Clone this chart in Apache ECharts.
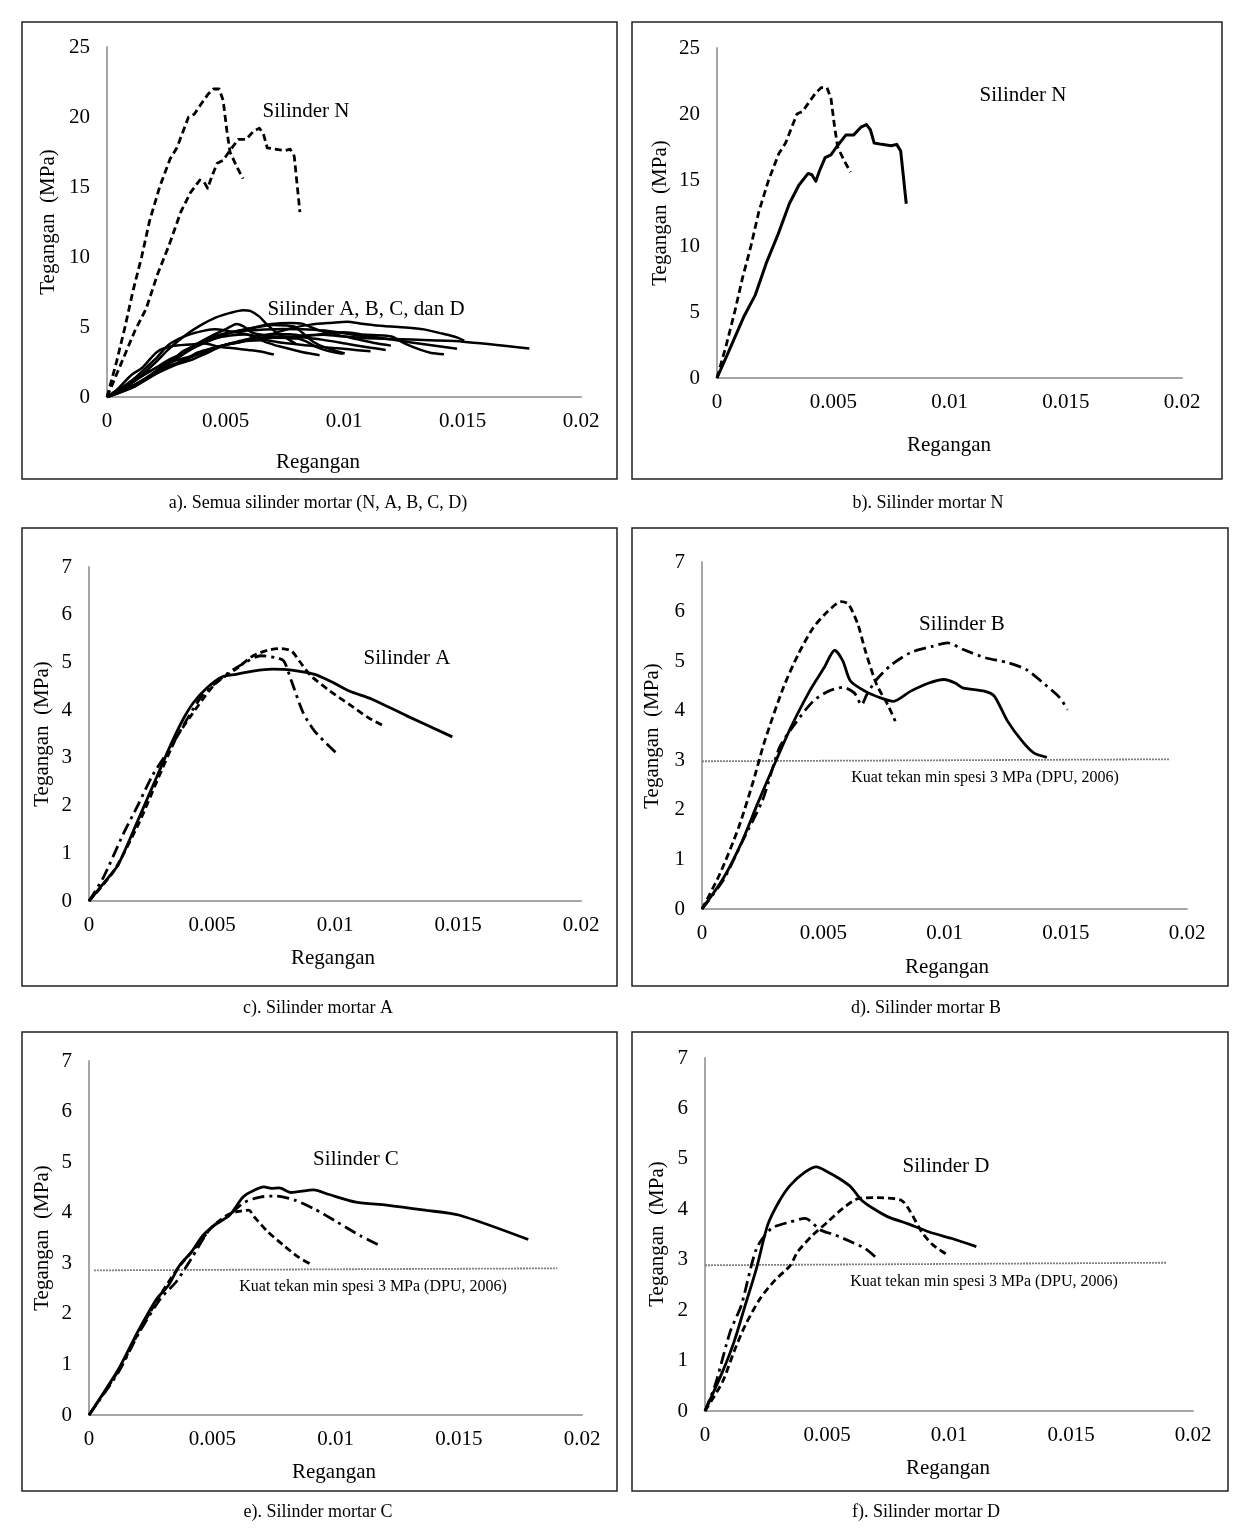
<!DOCTYPE html>
<html>
<head>
<meta charset="utf-8">
<script src="https://cdn.jsdelivr.net/npm/echarts@6/dist/echarts.min.js"></script>
<style>
html,body{margin:0;padding:0;background:#fff;}
#c{width:1242px;height:1536px;}
</style>
</head>
<body>
<div id="c"></div>
<script>
// ---------- Tick settings ----------
const xTicks = {min: 0, max: 0.02, interval: 0.005};
const yTicksN = {min: 0, max: 25, interval: 5};
const yTicksABCD = {min: 0, max: 7, interval: 1};

// ---------- Silinder N ----------
const N_dashed = [[0,0],[0.0004,2.5],[0.00076,5],[0.0011,7.6],[0.00146,10],[0.0018,12.6],[0.00222,15],[0.00266,17],[0.00295,17.8],[0.00344,20],[0.00368,20.2],[0.004,21],[0.00425,21.6],[0.00449,22],[0.00473,22],[0.0049,21.2],[0.00506,19],[0.00519,17.5],[0.00546,16.5],[0.00574,15.6]];
const N_solid = [[0,0],[0.0005,2],[0.00117,4.7],[0.00165,6.3],[0.00214,8.8],[0.00263,10.9],[0.00311,13.2],[0.00352,14.6],[0.00392,15.5],[0.00408,15.4],[0.00425,14.9],[0.00441,15.7],[0.00465,16.7],[0.0049,16.9],[0.00514,17.5],[0.00554,18.4],[0.00587,18.4],[0.00619,19],[0.00643,19.2],[0.0066,18.8],[0.00676,17.8],[0.00708,17.7],[0.00749,17.6],[0.00773,17.7],[0.0079,17.2],[0.00814,13.2]];

// ---------- Silinder A ----------
const A_solid = [[0,0],[0.00089,0.56],[0.0012,0.77],[0.00198,1.68],[0.00277,2.62],[0.00339,3.35],[0.00386,3.84],[0.00425,4.16],[0.0048,4.47],[0.00542,4.7],[0.00597,4.75],[0.00667,4.82],[0.00745,4.86],[0.00823,4.84],[0.00917,4.75],[0.0098,4.61],[0.01058,4.4],[0.0115,4.23],[0.01292,3.88],[0.01477,3.44]];
const A_dashed = [[0,0],[0.001,0.62],[0.002,1.6],[0.00277,2.52],[0.00355,3.42],[0.00417,3.9],[0.00511,4.54],[0.00605,4.89],[0.00667,5.14],[0.0073,5.26],[0.00777,5.29],[0.00823,5.24],[0.00855,5.03],[0.00902,4.72],[0.0098,4.4],[0.01058,4.12],[0.01136,3.84],[0.01198,3.67]];
const A_dashdot = [[0,0],[0.00058,0.49],[0.00139,1.4],[0.00198,2.0],[0.0026,2.65],[0.0033,3.2],[0.00386,3.7],[0.00464,4.33],[0.00558,4.75],[0.00636,5.0],[0.00698,5.14],[0.0076,5.1],[0.00792,5.03],[0.00823,4.61],[0.0087,3.95],[0.00917,3.56],[0.01003,3.11]];

// ---------- Silinder B ----------
const B_dashed = [[0,0],[0.00072,0.69],[0.0015,1.63],[0.00211,2.57],[0.00258,3.38],[0.00335,4.46],[0.00396,5.13],[0.00458,5.67],[0.0052,6.01],[0.00574,6.2],[0.00604,6.15],[0.00643,5.74],[0.00674,5.2],[0.0072,4.53],[0.00766,4.12],[0.00797,3.79]];
const B_solid = [[0,0],[0.00088,0.62],[0.00165,1.36],[0.00227,2.1],[0.00304,2.98],[0.00365,3.65],[0.00443,4.39],[0.00504,4.87],[0.00547,5.22],[0.00581,5.0],[0.00612,4.6],[0.00674,4.39],[0.00736,4.26],[0.0079,4.19],[0.00859,4.39],[0.00936,4.56],[0.00998,4.63],[0.01044,4.56],[0.01075,4.46],[0.01167,4.39],[0.01206,4.29],[0.0126,3.79],[0.01321,3.38],[0.01368,3.15],[0.01422,3.06]];
const B_dashdot = [[0,0],[0.0009,0.6],[0.0017,1.4],[0.0025,2.2],[0.00319,3.25],[0.00381,3.72],[0.00458,4.19],[0.0052,4.39],[0.00581,4.47],[0.00628,4.36],[0.00658,4.12],[0.0068,4.33],[0.0072,4.63],[0.00782,4.93],[0.00859,5.17],[0.00951,5.3],[0.01013,5.37],[0.01075,5.24],[0.01167,5.07],[0.0126,4.97],[0.01337,4.83],[0.01414,4.53],[0.01476,4.26],[0.01507,4.02]];

// ---------- Silinder C ----------
const C_solid = [[0,0],[0.0012,0.91],[0.00197,1.64],[0.00275,2.3],[0.00322,2.56],[0.00368,2.96],[0.00415,3.22],[0.00462,3.55],[0.00508,3.75],[0.0057,3.95],[0.00625,4.31],[0.00664,4.43],[0.0071,4.51],[0.0074,4.48],[0.00772,4.49],[0.00819,4.4],[0.00912,4.45],[0.00974,4.36],[0.01083,4.21],[0.01207,4.15],[0.01363,4.05],[0.01503,3.95],[0.01782,3.47]];
const C_dashdot = [[0,0],[0.0012,0.85],[0.002,1.6],[0.0029,2.3],[0.00353,2.63],[0.00415,3.09],[0.00493,3.69],[0.0057,3.96],[0.00632,4.21],[0.00695,4.31],[0.00757,4.33],[0.00834,4.25],[0.00912,4.08],[0.01005,3.82],[0.01099,3.55],[0.01176,3.36]];
const C_dashed = [[0,0],[0.0012,0.88],[0.002,1.62],[0.0028,2.3],[0.0036,2.9],[0.0043,3.3],[0.005,3.72],[0.0056,3.95],[0.00601,4.02],[0.00648,4.05],[0.0067,3.92],[0.00726,3.62],[0.00788,3.36],[0.0085,3.12],[0.00897,2.99]];

// ---------- Silinder D ----------
const D_solid = [[0,0],[0.00072,0.78],[0.00119,1.37],[0.00165,2.1],[0.00211,2.83],[0.00257,3.69],[0.00303,4.15],[0.0035,4.48],[0.00411,4.74],[0.00457,4.84],[0.00503,4.74],[0.0055,4.61],[0.00596,4.45],[0.00642,4.18],[0.00688,4.02],[0.0075,3.85],[0.00827,3.72],[0.00919,3.55],[0.01012,3.42],[0.01112,3.26]];
const D_dashed = [[0,0],[0.00072,0.58],[0.00119,1.18],[0.00165,1.7],[0.00226,2.23],[0.00288,2.6],[0.0035,2.89],[0.0038,3.16],[0.00442,3.49],[0.00503,3.75],[0.00565,4.02],[0.00627,4.21],[0.00704,4.23],[0.00804,4.18],[0.00842,3.95],[0.00888,3.55],[0.00935,3.29],[0.00996,3.09]];
const D_dashdot = [[0,0],[0.00042,0.52],[0.00103,1.57],[0.00149,2.1],[0.00211,3.22],[0.00272,3.62],[0.0035,3.75],[0.00411,3.82],[0.00473,3.59],[0.00534,3.49],[0.00596,3.36],[0.00657,3.22],[0.00704,3.03]];

// ---------- Minimum mortar strength reference lines (3 MPa, DPU 2006) ----------
const ref_B = [[0,2.98],[0.0193,3.02]];
const ref_C = [[0.0002,2.86],[0.019,2.9]];
const ref_D = [[0,2.89],[0.0189,2.94]];

// ---------- Texts ----------
const captions = ['a). Semua silinder mortar (N, A, B, C, D)','b). Silinder mortar N','c). Silinder mortar A','d). Silinder mortar B','e). Silinder mortar C','f). Silinder mortar D'];
const xName = 'Regangan';
const yName = 'Tegangan  (MPa)';
const refText = 'Kuat tekan min spesi 3 MPa (DPU, 2006)';

// ---------- Layout ----------
const FONT = '"Liberation Serif","Times New Roman",serif';
const panels = [
  {box:[22,22,617,479],   grid:{left:107,top:47,width:474,height:350},  y:yTicksN,    cap:[318,503], xn:[318,462],  yn:[48,222],  ann:[{t:'Silinder N',x:306,y:111},{t:'Silinder A, B, C, dan D',x:366,y:309}]},
  {box:[632,22,1222,479], grid:{left:717,top:48,width:465,height:330},  y:yTicksN,    cap:[928,503], xn:[949,445],  yn:[660,213], ann:[{t:'Silinder N',x:1023,y:95}]},
  {box:[22,528,617,986],  grid:{left:89,top:567,width:492,height:334},  y:yTicksABCD, cap:[318,1008],xn:[333,958],  yn:[42,734],  ann:[{t:'Silinder A',x:407,y:658}]},
  {box:[632,528,1228,986],grid:{left:702,top:562,width:485,height:347}, y:yTicksABCD, cap:[926,1008],xn:[947,967],  yn:[652,736], ann:[{t:'Silinder B',x:962,y:624},{t:refText,x:985,y:778,ref:true}]},
  {box:[22,1032,617,1491],grid:{left:89,top:1061,width:493,height:354}, y:yTicksABCD, cap:[318,1512],xn:[334,1472], yn:[42,1238], ann:[{t:'Silinder C',x:356,y:1159},{t:refText,x:373,y:1287,ref:true}]},
  {box:[632,1032,1228,1491],grid:{left:705,top:1058,width:488,height:353},y:yTicksABCD,cap:[926,1512],xn:[948,1468], yn:[657,1234], ann:[{t:'Silinder D',x:946,y:1166},{t:refText,x:984,y:1282,ref:true}]}
];

const grids = [], xAxes = [], yAxes = [], series = [], graphics = [];
const axisLine = {show:true, lineStyle:{color:'#a6a6a6', width:2}};
panels.forEach((p,i)=>{
  grids.push(Object.assign({containLabel:false}, p.grid));
  xAxes.push({type:'value', gridIndex:i, min:xTicks.min, max:xTicks.max, interval:xTicks.interval,
    axisLine:axisLine, axisTick:{show:false}, splitLine:{show:false},
    axisLabel:{fontFamily:FONT, fontSize:21, color:'#000', margin:14}});
  yAxes.push({type:'value', gridIndex:i, min:p.y.min, max:p.y.max, interval:p.y.interval,
    axisLine:axisLine, axisTick:{show:false}, splitLine:{show:false},
    axisLabel:{fontFamily:FONT, fontSize:21, color:'#000', margin:17}});
  const [x1,y1,x2,y2] = p.box;
  graphics.push({type:'rect', shape:{x:x1,y:y1,width:x2-x1,height:y2-y1}, style:{fill:'none', stroke:'#222', lineWidth:1.5}, silent:true});
  graphics.push({type:'text', x:p.cap[0], y:p.cap[1], style:{text:captions[i], font:'18px '+FONT, fill:'#000', textAlign:'center', textVerticalAlign:'middle'}});
  graphics.push({type:'text', x:p.xn[0], y:p.xn[1], style:{text:xName, font:'21px '+FONT, fill:'#000', textAlign:'center', textVerticalAlign:'middle'}});
  graphics.push({type:'text', x:p.yn[0], y:p.yn[1], rotation:Math.PI/2, style:{text:yName, font:'21px '+FONT, fill:'#000', textAlign:'center', textVerticalAlign:'middle'}});
  p.ann.forEach(a=>{
    graphics.push({type:'text', x:a.x, y:a.y, style:{text:a.t, font:(a.ref?'16px ':'21px ')+FONT, fill:'#000', textAlign:'center', textVerticalAlign:'middle'}});
  });
});

const DASH = [7,4];
const DASHDOT = [12,5,3,5];
function line(data, idx, type, width, smooth){
  series.push({type:'line', xAxisIndex:idx, yAxisIndex:idx, data:data, showSymbol:false, symbol:'none',
    smooth:smooth||false, silent:true, z:3,
    lineStyle:{color:'#000', width:width||2.8, type:type, cap:'butt', join:'round'}});
}
function ref(data, idx){
  series.push({type:'line', xAxisIndex:idx, yAxisIndex:idx, data:data, showSymbol:false, symbol:'none', silent:true, z:2,
    lineStyle:{color:'#808080', width:1.8, type:[2,1]}});
}
// Panel a: all cylinders
line(N_dashed,0,DASH,2.8); line(N_solid,0,DASH,2.8);
[A_solid,A_dashed,A_dashdot,B_dashed,B_solid,B_dashdot,C_solid,C_dashdot,C_dashed,D_solid,D_dashed,D_dashdot].forEach(d=>line(d,0,'solid',2.5,0.25));
// Panel b
line(N_dashed,1,DASH,2.8); line(N_solid,1,'solid',3);
// Panel c
line(A_solid,2,'solid',2.8,0.25); line(A_dashed,2,DASH,2.8,0.25); line(A_dashdot,2,DASHDOT,2.8,0.25);
// Panel d
ref(ref_B,3);
line(B_dashed,3,DASH,2.8,0.25); line(B_solid,3,'solid',2.8,0.25); line(B_dashdot,3,DASHDOT,2.8,0.25);
// Panel e
ref(ref_C,4);
line(C_solid,4,'solid',2.8,0.25); line(C_dashdot,4,DASHDOT,2.8,0.25); line(C_dashed,4,DASH,2.8,0.25);
// Panel f
ref(ref_D,5);
line(D_solid,5,'solid',2.8,0.25); line(D_dashed,5,DASH,2.8,0.25); line(D_dashdot,5,DASHDOT,2.8,0.25);

const chart = echarts.init(document.getElementById('c'), null, {renderer:'canvas'});
chart.setOption({
  animation:false,
  backgroundColor:'#fff',
  grid:grids, xAxis:xAxes, yAxis:yAxes, series:series,
  graphic:graphics
});
</script>
</body>
</html>
